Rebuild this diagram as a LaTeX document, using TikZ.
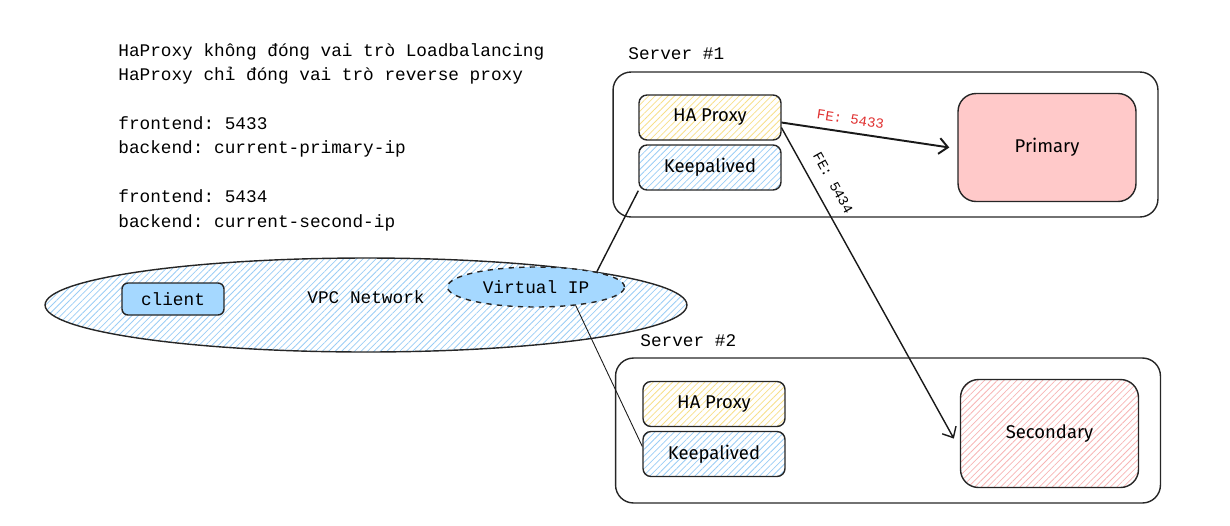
\documentclass[tikz,border=0pt]{standalone}
\usepackage{fontspec}
\setmonofont{Liberation Mono}
\newfontfamily\handfont{Fira Sans}
\usetikzlibrary{shapes.geometric,patterns.meta,arrows.meta}

\definecolor{hatchyellow}{HTML}{F7DF8A}
\definecolor{hatchblue}{HTML}{9ACDF5}
\definecolor{hatchpink}{HTML}{F7B5B5}
\definecolor{solidpink}{HTML}{FFC9C9}
\definecolor{solidblue}{HTML}{A5D8FF}
\definecolor{labelred}{HTML}{E03131}

\tikzset{
  hatch/.style={pattern={Lines[angle=45,distance=2.6pt,line width=0.45pt]},pattern color=#1},
  server/.style={draw=black!85,line width=0.8pt,rounded corners=0.36cm,minimum width=10.9cm,minimum height=2.9cm},
  part/.style={draw=black!85,line width=0.8pt,rounded corners=0.16cm,minimum width=2.84cm,minimum height=0.9cm,font=\handfont\fontsize{10.5}{12}\selectfont},
  db/.style={draw=black!85,line width=0.8pt,rounded corners=0.36cm,minimum width=3.56cm,minimum height=2.16cm,font=\handfont\fontsize{10.5}{12}\selectfont},
  mono/.style={font=\ttfamily\fontsize{10.1}{13.9}\selectfont},
  link/.style={draw=black!90,line width=#1},
  flow/.style={draw=black!90,line width=#1,-{Straight Barb[length=5pt,width=9pt]}}
}

\begin{document}
\begin{tikzpicture}[x=0.02cm,y=-0.02cm]
\useasboundingbox (0,0) rectangle (1230,525);

% notes
\node[mono,align=left,anchor=north west,inner sep=0] (notes) at (118,43)
  {HaProxy không đóng vai trò Loadbalancing\\
   HaProxy chỉ đóng vai trò reverse proxy\\[13.9pt]
   frontend: 5433\\
   backend: current-primary-ip\\[13.9pt]
   frontend: 5434\\
   backend: current-second-ip};

% servers
\node[server] (srv1) at (885.5,144.5) {};
\node[mono,anchor=base west,inner sep=0] (srv1label) at (628,59) {Server \#1};
\node[server] (srv2) at (888,430.5) {};
\node[mono,anchor=base west,inner sep=0] (srv2label) at (640,346) {Server \#2};

\node[part,hatch=hatchyellow] (hap1) at (710,117.5) {HA Proxy};
\node[part,hatch=hatchblue]   (ka1)  at (710,167.5) {Keepalived};
\node[db,fill=solidpink]      (pri)  at (1047,147.5) {Primary};

\node[part,hatch=hatchyellow] (hap2) at (714,404) {HA Proxy};
\node[part,hatch=hatchblue]   (ka2)  at (714,454) {Keepalived};
\node[db,hatch=hatchpink]     (sec)  at (1049.5,433.5) {Secondary};

% network
\node[ellipse,draw=black!85,line width=0.8pt,hatch=hatchblue,minimum width=12.84cm,minimum height=1.88cm,inner sep=0] (vpc) at (366,305) {};
\node[mono,inner sep=0] (vpclabel) at (366,297) {VPC Network};
\node[draw=black!85,line width=0.8pt,fill=solidblue,rounded corners=0.12cm,minimum width=2.04cm,minimum height=0.64cm,mono] (client) at (173,299) {client};
\node[ellipse,draw=black!85,line width=0.8pt,dashed,fill=solidblue,minimum width=3.54cm,minimum height=0.8cm,inner sep=0,mono] (vip) at (536,287) {Virtual IP};

% connectors
\draw[link=0.8pt] (ka1.south west) -- (vip.14);
\draw[link=0.5pt] (vip.-25) -- (ka2.174);
\draw[flow=1.1pt] (hap1.-4) -- ([xshift=-0.16cm]pri.west)
  node[pos=0.4,sloped,above=1pt,text=labelred,font=\ttfamily\fontsize{8}{9}\selectfont] (fe1) {FE: 5433};
\draw[flow=0.8pt,shorten >=7pt] (hap1.-8) -- (sec.190)
  node[pos=0.2,sloped,above=4pt,font=\ttfamily\fontsize{8}{9}\selectfont] (fe2) {FE: 5434};
\end{tikzpicture}
\end{document}
